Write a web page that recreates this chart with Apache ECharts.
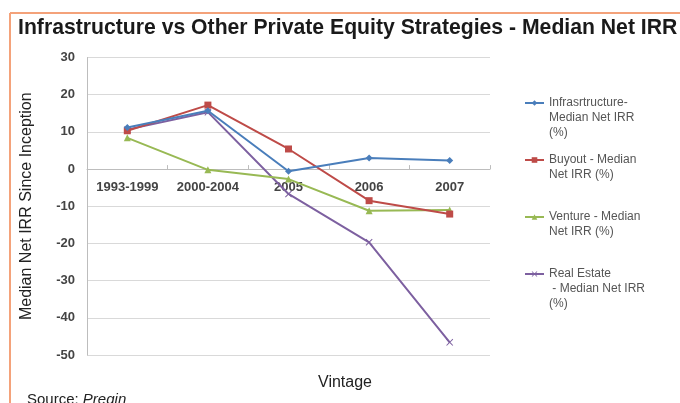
<!DOCTYPE html>
<html><head><meta charset="utf-8">
<script src="https://cdn.jsdelivr.net/npm/echarts@6/dist/echarts.min.js"></script>
<style>html,body{margin:0;padding:0;background:#fff}#c{width:680px;height:403px}</style>
</head><body><div id="c"></div>
<script>
const categories = ['1993-1999','2000-2004','2005','2006','2007'];
const infrastructure = [11.2, 15.7, -0.6, 3.0, 2.3];
const buyout = [10.3, 17.2, 5.4, -8.5, -12.1];
const venture = [8.4, -0.2, -2.7, -11.2, -11.0];
const realEstate = [10.6, 15.3, -6.7, -19.7, -46.6];
const seriesNames = ['\n\nInfrasrtructure-\nMedian Net IRR\n(%)','\nBuyout - Median\nNet IRR (%)','\nVenture - Median\nNet IRR (%)','\n\nReal Estate\n - Median Net IRR\n(%)'];
const yTicks = {min:-50, max:30, interval:10};

const colors = ['#4a7ebb','#be4b48','#98b954','#7d60a0'];
const xPath = 'path://M0,1L1,0L5,4L9,0L10,1L6,5L10,9L9,10L5,6L1,10L0,9L4,5Z';
const symbols = ['diamond','rect','triangle',xPath];
const symSizes = [7,7,7,7];
const dataSets = [infrastructure,buyout,venture,realEstate];
const legendTops = [65.5,137.5,194.5,236.5];

const chart = echarts.init(document.getElementById('c'));
chart.setOption({
  animation:false,
  color:colors,
  title:{text:'Infrastructure vs Other Private Equity Strategies - Median Net IRR',left:18,top:18,padding:0,
    textStyle:{fontFamily:'Liberation Sans',fontWeight:'bold',fontSize:21.2,color:'#1a1a1a'}},
  grid:{left:87,right:190,top:57.5,bottom:48},
  legend: seriesNames.map((n,i)=>({
    data:[n],left:524,top:legendTops[i],orient:'vertical',itemWidth:19,itemHeight:7,padding:0,
    textStyle:{fontFamily:'Liberation Sans',fontSize:12,color:'#555',lineHeight:15},
    selectedMode:false
  })),
  xAxis:{type:'category',data:categories,boundaryGap:true,
    axisLine:{onZero:false,lineStyle:{color:'#bdbdbd'}},
    offset:-185.9,
    axisTick:{show:true,alignWithLabel:false,length:4,inside:true,lineStyle:{color:'#bdbdbd'}},
    axisLabel:{interval:0,hideOverlap:false,fontFamily:'Liberation Sans',fontWeight:'bold',fontSize:13,color:'#444',margin:12}},
  yAxis:{type:'value',min:yTicks.min,max:yTicks.max,interval:yTicks.interval,
    name:'Median Net IRR Since Inception',nameLocation:'middle',nameGap:52,
    nameTextStyle:{fontFamily:'Liberation Sans',fontSize:16,color:'#222'},
    axisLine:{show:true,lineStyle:{color:'#bdbdbd'}},
    axisTick:{show:false},
    splitLine:{lineStyle:{color:'#d9d9d9'}},
    axisLabel:{fontFamily:'Liberation Sans',fontWeight:'bold',fontSize:13,color:'#444',margin:12}},
  graphic:[
    {type:'line',shape:{x1:10,y1:13,x2:680,y2:13},style:{stroke:'#f4a27a',lineWidth:2}},
    {type:'line',shape:{x1:10,y1:13,x2:10,y2:403},style:{stroke:'#f4a27a',lineWidth:2}},
    {type:'text',x:345,y:383,style:{text:'Vintage',align:'center',verticalAlign:'middle',fontFamily:'Liberation Sans',fontSize:16,fill:'#222'}},
    {type:'text',left:27,top:392,style:{rich:{a:{fontFamily:'Liberation Sans',fontSize:15,fill:'#222'},b:{fontFamily:'Liberation Sans',fontSize:15,fontStyle:'italic',fill:'#222'}},text:'{a|Source: }{b|Preqin}'}}
  ],
  series: dataSets.map((d,i)=>({
    name:seriesNames[i],type:'line',data:d,symbol:symbols[i],symbolSize:symSizes[i],
    lineStyle:{width:2,color:colors[i]},itemStyle:{color:colors[i]},z:10-i
  }))
});
</script></body></html>
